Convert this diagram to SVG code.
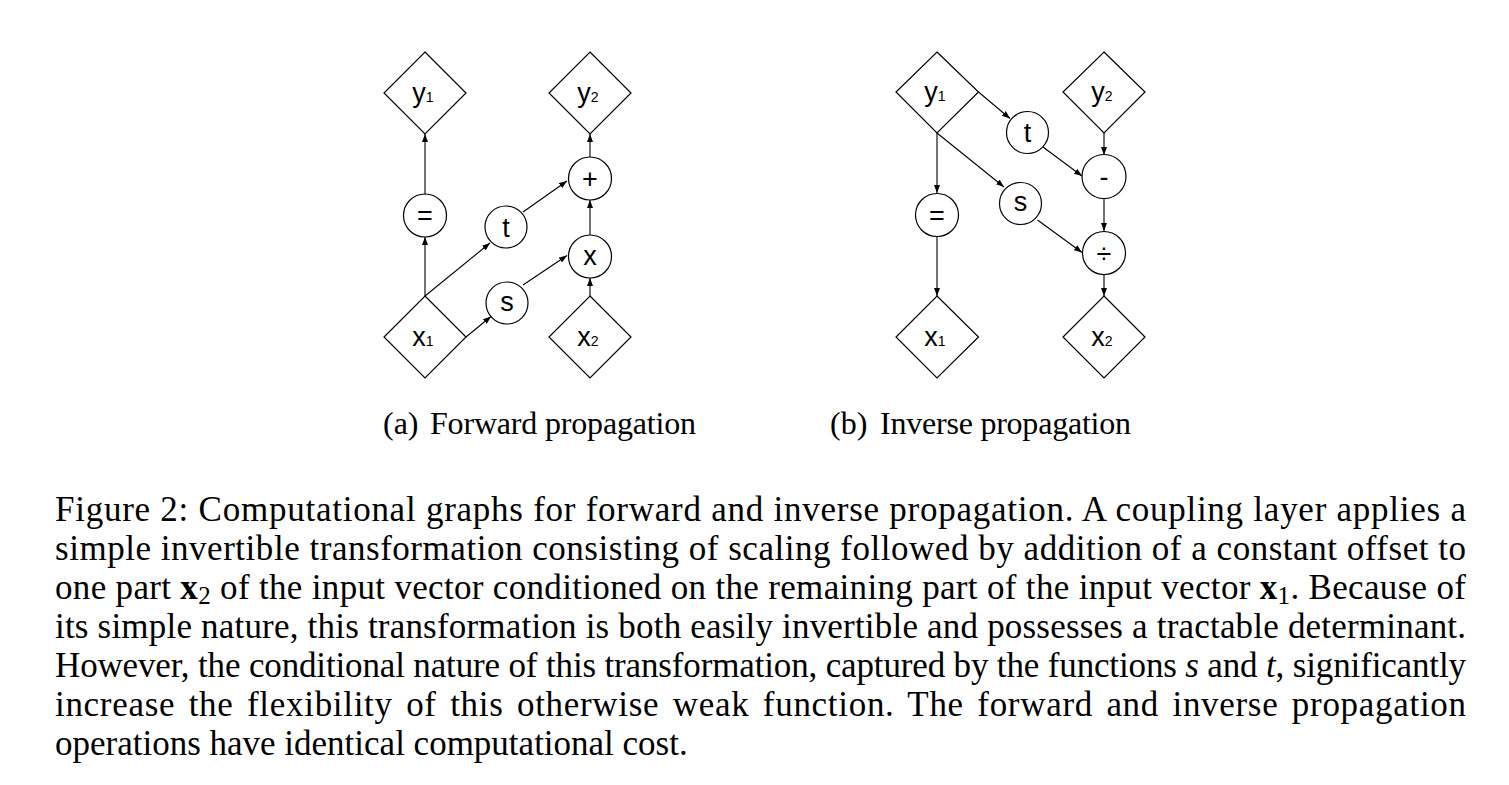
<svg xmlns="http://www.w3.org/2000/svg" width="1509" height="785" viewBox="0 0 1509 785">
<style>
.bg{fill:#ffffff}
.dia{fill:#ffffff;stroke:#000;stroke-width:1.2}
.cir{fill:#ffffff;stroke:#000;stroke-width:1.2}
.edge{fill:none;stroke:#000;stroke-width:1.1;marker-end:url(#ah)}
.lbl{font-family:"Liberation Sans",Arial,sans-serif;font-size:27px;fill:#000;text-anchor:middle}
.sub{font-size:14px}
.cap{font-family:"Liberation Serif","Times New Roman",serif;font-size:35px;fill:#000}
.subcap{font-family:"Liberation Serif","Times New Roman",serif;font-size:32px;fill:#000}
</style>
<defs>
<marker id="ah" markerWidth="8" markerHeight="6" refX="8" refY="3" orient="auto" markerUnits="userSpaceOnUse">
<path d="M0,0 L8,3 L0,6 z" fill="#000"/>
</marker>
</defs>
<rect class="bg" x="0" y="0" width="1509" height="785"/>

<g id="connectors">
<!-- forward -->
<line class="edge" x1="425" y1="296" x2="425" y2="237"/>
<line class="edge" x1="425" y1="194" x2="425" y2="134"/>
<line class="edge" x1="425" y1="296" x2="490" y2="243"/>
<line class="edge" x1="466" y1="337" x2="491" y2="316.5"/>
<line class="edge" x1="523" y1="212" x2="567" y2="181"/>
<line class="edge" x1="523" y1="285" x2="567" y2="255.5"/>
<line class="edge" x1="590" y1="297" x2="590" y2="278"/>
<line class="edge" x1="590" y1="235" x2="590" y2="200"/>
<line class="edge" x1="590" y1="157" x2="590" y2="134"/>
<!-- inverse -->
<line class="edge" x1="978.5" y1="92" x2="1010" y2="118.5"/>
<line class="edge" x1="937" y1="133" x2="937" y2="193"/>
<line class="edge" x1="937" y1="133" x2="1004" y2="187"/>
<line class="edge" x1="1043" y1="147" x2="1082" y2="176"/>
<line class="edge" x1="1104" y1="133" x2="1104" y2="155"/>
<line class="edge" x1="1104" y1="198.5" x2="1104" y2="231"/>
<line class="edge" x1="1037.5" y1="220" x2="1082" y2="252.5"/>
<line class="edge" x1="1104" y1="274.5" x2="1104" y2="296"/>
<line class="edge" x1="937" y1="236.5" x2="937" y2="296"/>
</g>

<!-- forward nodes -->
<g id="f_y1"><polygon class="dia" points="425,52 466,93 425,134 384,93"/><text class="lbl" x="423" y="102">y<tspan class="sub">1</tspan></text></g>
<g id="f_y2"><polygon class="dia" points="590,52 631,93 590,134 549,93"/><text class="lbl" x="588" y="102">y<tspan class="sub">2</tspan></text></g>
<g id="f_eq"><circle class="cir" cx="425" cy="215.5" r="21.5"/><text class="lbl" x="425" y="225">=</text></g>
<g id="f_t"><circle class="cir" cx="506" cy="227" r="21"/><text class="lbl" x="506" y="236.5">t</text></g>
<g id="f_plus"><circle class="cir" cx="590" cy="178.5" r="21.5"/><text class="lbl" x="590" y="188">+</text></g>
<g id="f_mul"><circle class="cir" cx="590" cy="256.5" r="21.5"/><text class="lbl" x="590" y="264.5">x</text></g>
<g id="f_s"><circle class="cir" cx="507" cy="303" r="21"/><text class="lbl" x="507" y="310.5">s</text></g>
<g id="f_x1"><polygon class="dia" points="425,296 466,337 425,378 384,337"/><text class="lbl" x="423" y="346">x<tspan class="sub">1</tspan></text></g>
<g id="f_x2"><polygon class="dia" points="590,296 631,337 590,378 549,337"/><text class="lbl" x="588" y="346">x<tspan class="sub">2</tspan></text></g>

<!-- inverse nodes -->
<g id="i_y1"><polygon class="dia" points="937,52 978.5,92 937,133 896,92"/><text class="lbl" x="935" y="101">y<tspan class="sub">1</tspan></text></g>
<g id="i_y2"><polygon class="dia" points="1104,52 1145,92 1104,133 1063,92"/><text class="lbl" x="1102" y="101">y<tspan class="sub">2</tspan></text></g>
<g id="i_t"><circle class="cir" cx="1027.5" cy="132.5" r="21"/><text class="lbl" x="1027.5" y="142">t</text></g>
<g id="i_minus"><circle class="cir" cx="1104" cy="176.5" r="22"/><text class="lbl" x="1104" y="186">-</text></g>
<g id="i_eq"><circle class="cir" cx="937" cy="215" r="21.5"/><text class="lbl" x="937" y="224.5">=</text></g>
<g id="i_s"><circle class="cir" cx="1020.5" cy="203.5" r="21"/><text class="lbl" x="1020.5" y="211">s</text></g>
<g id="i_div"><circle class="cir" cx="1104" cy="253" r="21.5"/><text class="lbl" x="1104" y="262.5">÷</text></g>
<g id="i_x1"><polygon class="dia" points="937,296 978.5,337 937,378 896,337"/><text class="lbl" x="935" y="346">x<tspan class="sub">1</tspan></text></g>
<g id="i_x2"><polygon class="dia" points="1104,296 1145,337 1104,378 1063,337"/><text class="lbl" x="1102" y="346">x<tspan class="sub">2</tspan></text></g>

<g id="subcaptions">
<text class="subcap" x="383" y="434">(a)<tspan x="430" textLength="266" lengthAdjust="spacing">Forward propagation</tspan></text>
<text class="subcap" x="830" y="434">(b)<tspan x="880" textLength="251" lengthAdjust="spacing">Inverse propagation</tspan></text>
</g>

<g id="caption">
<text class="cap" x="55" y="521" textLength="1411" lengthAdjust="spacing">Figure 2: Computational graphs for forward and inverse propagation. A coupling layer applies a</text>
<text class="cap" x="55" y="560" textLength="1411" lengthAdjust="spacing">simple invertible transformation consisting of scaling followed by addition of a constant offset to</text>
<text class="cap" x="55" y="599" textLength="1411" lengthAdjust="spacing">one part <tspan font-weight="bold">x</tspan><tspan font-size="25" dy="5">2</tspan><tspan dy="-5"> of the input vector conditioned on the remaining part of the input vector </tspan><tspan font-weight="bold">x</tspan><tspan font-size="25" dy="5">1</tspan><tspan dy="-5">. Because of</tspan></text>
<text class="cap" x="55" y="638" textLength="1411" lengthAdjust="spacing">its simple nature, this transformation is both easily invertible and possesses a tractable determinant.</text>
<text class="cap" x="55" y="677" textLength="1411" lengthAdjust="spacing">However, the conditional nature of this transformation, captured by the functions <tspan font-style="italic">s</tspan> and <tspan font-style="italic">t</tspan>, significantly</text>
<text class="cap" x="55" y="716" textLength="1411" lengthAdjust="spacing" word-spacing="4">increase the flexibility of this otherwise weak function. The forward and inverse propagation</text>
<text class="cap" x="55" y="755">operations have identical computational cost.</text>
</g>
</svg>
